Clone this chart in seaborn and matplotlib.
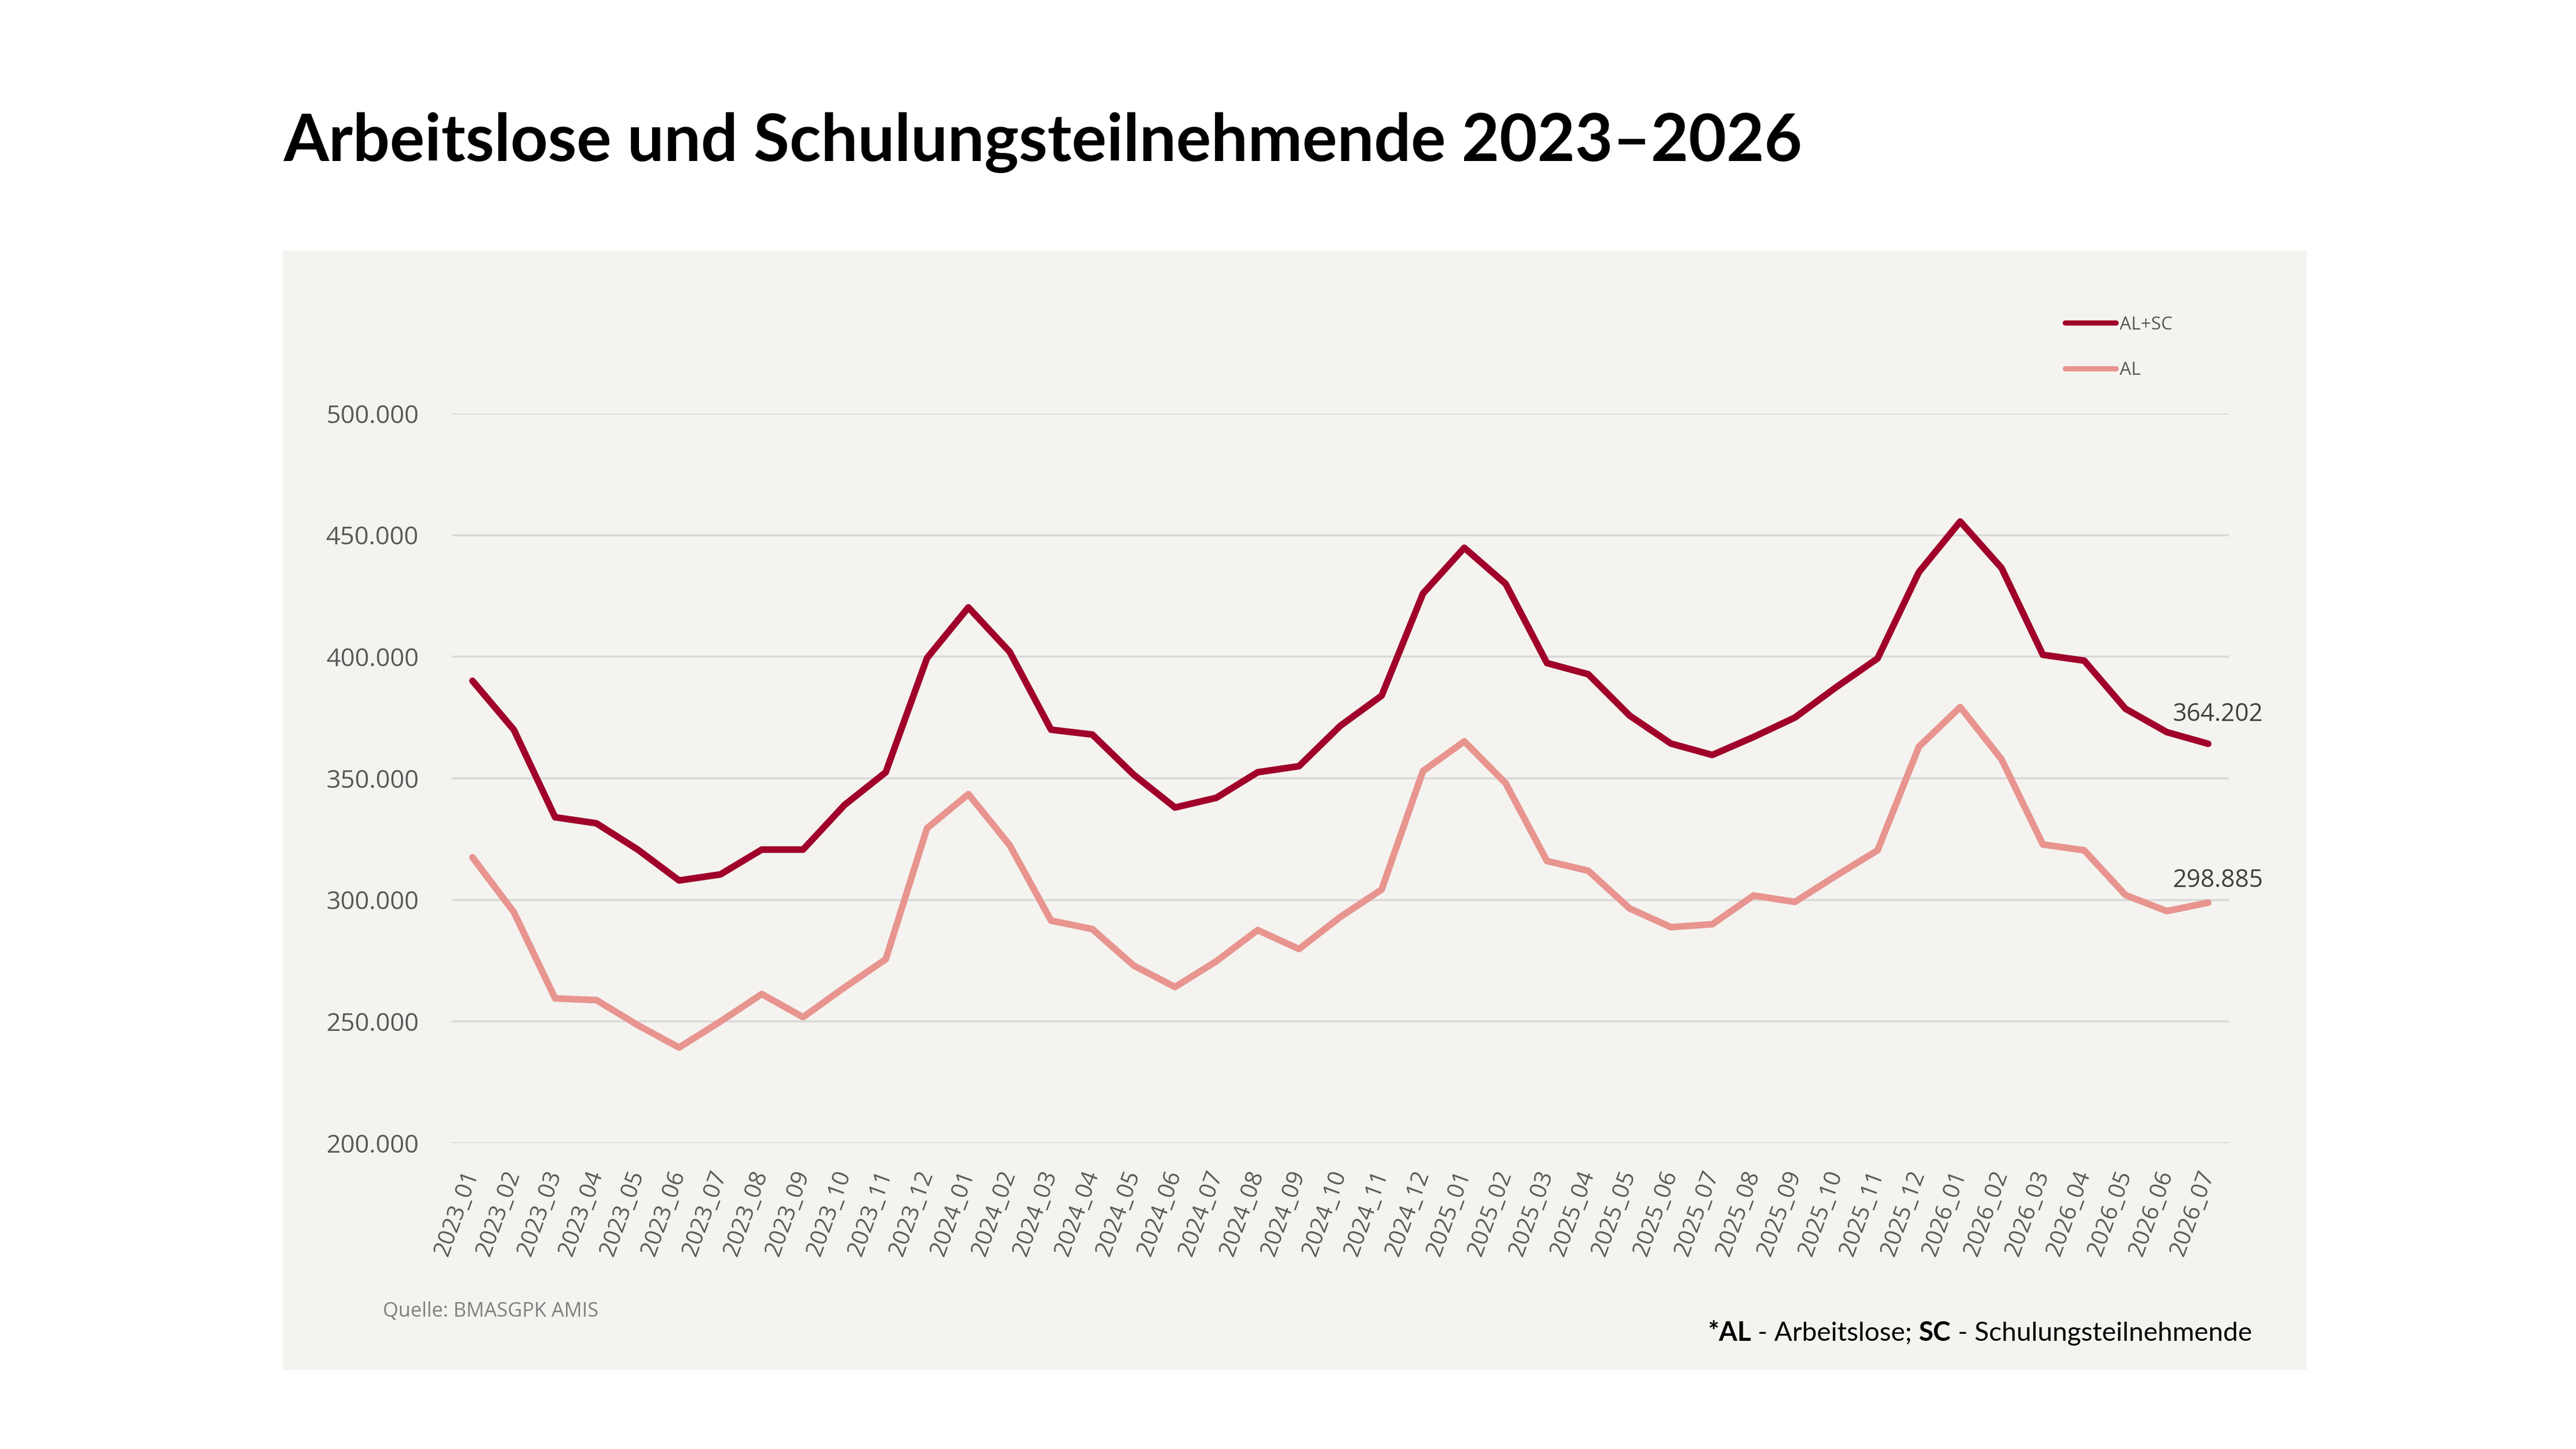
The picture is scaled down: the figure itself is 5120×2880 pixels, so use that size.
import matplotlib
matplotlib.use("Agg")
import matplotlib.pyplot as plt
import matplotlib.ticker as mticker
from matplotlib.patches import Rectangle
import pandas as pd
import seaborn as sns

monate = [
    "2023_01", "2023_02", "2023_03", "2023_04", "2023_05", "2023_06", "2023_07",
    "2023_08", "2023_09", "2023_10", "2023_11", "2023_12",
    "2024_01", "2024_02", "2024_03", "2024_04", "2024_05", "2024_06", "2024_07",
    "2024_08", "2024_09", "2024_10", "2024_11", "2024_12",
    "2025_01", "2025_02", "2025_03", "2025_04", "2025_05", "2025_06", "2025_07",
    "2025_08", "2025_09", "2025_10", "2025_11", "2025_12",
    "2026_01", "2026_02", "2026_03", "2026_04", "2026_05", "2026_06", "2026_07",
]

al_sc = [
    390100, 370000, 334000, 331500, 320700, 308000, 310500, 320700, 320700, 339000, 352500, 399500,
    420300, 402000, 370000, 368000, 351500, 338000, 342000, 352500, 355000, 371600, 384000, 426000,
    444800, 430000, 397400, 392800, 375800, 364300, 359600, 367000, 375000, 387500, 399300, 434800,
    455600, 436500, 400800, 398400, 378600, 369000, 364202,
]

al = [
    317500, 295000, 259500, 258800, 248500, 239300, 250000, 261300, 251800, 264000, 275600, 329500,
    343500, 322500, 291500, 288000, 273000, 264200, 274800, 287600, 279800, 293000, 304300, 353000,
    365200, 348000, 316000, 312000, 296500, 288800, 290000, 301800, 299200, 310000, 320400, 363000,
    379300, 357800, 322800, 320400, 302000, 295400, 298885,
]

serien = ["AL+SC", "AL"]
farben = ["#A0002A", "#E8948F"]

df = pd.concat([
    pd.DataFrame({"monat": monate, "wert": al_sc, "serie": "AL+SC"}),
    pd.DataFrame({"monat": monate, "wert": al, "serie": "AL"}),
])

sns.set_style("white")
plt.rcParams["font.family"] = ["Open Sans", "DejaVu Sans"]

W, H = 5120, 2880
fig = plt.figure(figsize=(W / 100, H / 100), dpi=100, facecolor="white")

# grauer Hintergrund
fig.patches.append(Rectangle((563 / W, 1 - 2722 / H), (4583 - 563) / W, (2722 - 498) / H,
                             transform=fig.transFigure, color="#F4F3EF", zorder=-5))

ax = fig.add_axes([898 / W, 1 - 2272 / H, (4430 - 898) / W, (2272 - 822) / H])
ax.set_facecolor("none")
ax.set_zorder(2)

sns.lineplot(data=df, x="monat", y="wert", hue="serie", hue_order=serien,
             palette=farben, linewidth=9.5, sort=False, ax=ax,
             solid_joinstyle="round", solid_capstyle="round")

ax.set_xlim(-0.5, len(monate) - 0.5)
ax.set_ylim(200000, 500000)
ax.yaxis.set_major_locator(mticker.MultipleLocator(50000))
ax.yaxis.set_major_formatter(mticker.FuncFormatter(lambda v, p: f"{v:,.0f}".replace(",", ".")))
ax.grid(axis="y", color="#D9D9D9", linewidth=2.9)
ax.set_axisbelow(True)
for s in ax.spines.values():
    s.set_visible(False)
ax.set_xlabel("")
ax.set_ylabel("")

ax.tick_params(axis="y", length=0, pad=47, labelsize=36, labelcolor="#595959")
ax.tick_params(axis="x", length=0, pad=40, labelsize=33, labelcolor="#595959")
for lab in ax.get_xticklabels():
    lab.set_rotation(70)
    lab.set_rotation_mode("anchor")
    lab.set_ha("right")
    lab.set_va("center")

# Werte am Ende
ax.annotate(f"{al_sc[-1]:,}".replace(",", "."), xy=(len(monate) - 1, al_sc[-1]),
            xytext=(-70, 45), textcoords="offset pixels", ha="left", va="baseline",
            fontsize=35, color="#404040")
ax.annotate(f"{al[-1]:,}".replace(",", "."), xy=(len(monate) - 1, al[-1]),
            xytext=(-70, 31), textcoords="offset pixels", ha="left", va="baseline",
            fontsize=35, color="#404040")

handles, labels = ax.get_legend_handles_labels()
leg = ax.legend(handles, labels, loc="upper left", bbox_to_anchor=(4105 / W, 1 - 628 / H),
                bbox_transform=fig.transFigure, frameon=False, fontsize=26,
                handlelength=2.8, handletextpad=0.2, labelspacing=1.5,
                borderpad=0, borderaxespad=0)
for t in leg.get_texts():
    t.set_color("#595959")
for h in leg.get_lines():
    h.set_linewidth(7.5)
    h.set_solid_capstyle("round")

fig.text(564 / W, 1 - 320 / H, "Arbeitslose und Schulungsteilnehmende 2023\u20132026",
         fontsize=93.3, fontweight="bold", family=["Lato", "DejaVu Sans"],
         color="black", ha="left", va="baseline")

fig.text(761 / W, 1 - 2618 / H, "Quelle: BMASGPK AMIS", fontsize=28.5,
         color="#808080", ha="left", va="baseline")

fs = 38
t1 = fig.text(3394 / W, 1 - 2665 / H, "*AL", fontsize=fs, fontweight="bold",
              family=["Lato", "DejaVu Sans"], color="black", ha="left", va="baseline")
t2 = fig.text(0, 0, " - Arbeitslose; ", fontsize=fs, family=["Lato", "DejaVu Sans"],
              color="black", ha="left", va="baseline")
t3 = fig.text(0, 0, "SC", fontsize=fs, fontweight="bold", family=["Lato", "DejaVu Sans"],
              color="black", ha="left", va="baseline")
t4 = fig.text(0, 0, " - Schulungsteilnehmende", fontsize=fs, family=["Lato", "DejaVu Sans"],
              color="black", ha="left", va="baseline")

r = fig.canvas.get_renderer()
x = t1.get_window_extent(r).x1
for t in (t2, t3, t4):
    t.set_position((x / W, 1 - 2665 / H))
    x = t.get_window_extent(r).x1

fig.savefig("out.png", dpi=100, facecolor="white")
